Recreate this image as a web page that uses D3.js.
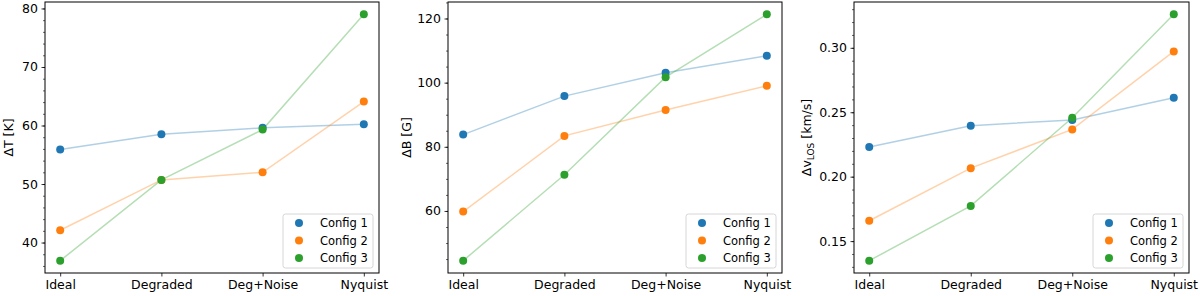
<!DOCTYPE html>
<html>
<head>
<meta charset="utf-8">
<script src="https://cdn.jsdelivr.net/npm/d3@7"></script>
<style>
  body { margin: 0; background: #fff; }
  svg text { font-family: "DejaVu Sans", sans-serif; fill: #000; }
</style>
</head>
<body>
<svg id="chart" width="1200" height="296"></svg>
<script>
// categories along x
var stages = ['Ideal', 'Degraded', 'Deg+Noise', 'Nyquist'];
var configs = ['Config 1', 'Config 2', 'Config 3'];
var colors = ['#1f77b4', '#ff7f0e', '#2ca02c'];

// Delta T [K]
var tempC1 = [55.9, 58.5, 59.6, 60.2];
var tempC2 = [42.1, 50.7, 52.0, 64.1];
var tempC3 = [36.9, 50.7, 59.3, 79.0];
var tempTicks = [40, 50, 60, 70, 80];

// Delta B [G]
var fieldC1 = [83.8, 95.8, 103.1, 108.4];
var fieldC2 = [59.8, 83.4, 91.5, 99.0];
var fieldC3 = [44.5, 71.3, 101.7, 121.3];
var fieldTicks = [60, 80, 100, 120];

// Delta v_LOS [km/s]
var velC1 = [0.2231, 0.2396, 0.2440, 0.2612];
var velC2 = [0.1658, 0.2066, 0.2367, 0.2972];
var velC3 = [0.1348, 0.1773, 0.2457, 0.3260];
var velTicks = [0.15, 0.20, 0.25, 0.30];

var panels = [
    { left: 45, width: 334, series: [tempC1, tempC2, tempC3], ticks: tempTicks, minor: 2, fmt: d3.format('d'), label: 'ΔT [K]', labelX: 13 },
    { left: 448, width: 334, series: [fieldC1, fieldC2, fieldC3], ticks: fieldTicks, minor: 5, fmt: d3.format('d'), label: 'ΔB [G]', labelX: 411 },
    { left: 854, width: 335, series: [velC1, velC2, velC3], ticks: velTicks, minor: 0.01, fmt: d3.format('.2f'), label: 'vlos', labelX: 811 }
];

var plotTop = 2, plotBottom = 273;
var svg = d3.select('#chart');

panels.forEach(function (p) {
    var h = plotBottom - plotTop;
    var g = svg.append('g').attr('transform', 'translate(' + p.left + ',' + plotTop + ')');

    // matplotlib style 5% margins
    var x = d3.scaleLinear().domain([-0.15, 3.15]).range([0, p.width]);
    var ext = d3.extent(d3.merge(p.series));
    var pad = (ext[1] - ext[0]) * 0.05;
    var y = d3.scaleLinear().domain([ext[0] - pad, ext[1] + pad]).range([h, 0]);

    // minor ticks on y
    var minorTicks = [];
    var start = Math.ceil(y.domain()[0] / p.minor);
    for (var k = start; k * p.minor <= y.domain()[1]; k++) {
        minorTicks.push(+(k * p.minor).toFixed(4));
    }
    g.append('g')
        .call(d3.axisLeft(y).tickValues(minorTicks).tickSize(2).tickFormat(''))
        .call(function (a) { a.select('.domain').remove(); a.selectAll('line').attr('stroke', '#000').attr('stroke-width', 0.6); });

    var yAxis = g.append('g')
        .call(d3.axisLeft(y).tickValues(p.ticks).tickSize(3.5).tickPadding(3.5).tickFormat(p.fmt));
    yAxis.select('.domain').remove();
    yAxis.selectAll('line').attr('stroke', '#000').attr('stroke-width', 0.8);
    yAxis.selectAll('text').attr('font-size', 12.5).attr('font-family', 'DejaVu Sans');

    var xAxis = g.append('g').attr('transform', 'translate(0,' + h + ')')
        .call(d3.axisBottom(x).tickValues([0, 1, 2, 3]).tickSize(3.5).tickPadding(4)
            .tickFormat(function (i) { return stages[i]; }));
    xAxis.select('.domain').remove();
    xAxis.selectAll('line').attr('stroke', '#000').attr('stroke-width', 0.8);
    xAxis.selectAll('text').attr('font-size', 12.5).attr('font-family', 'DejaVu Sans');

    var line = d3.line().x(function (d, i) { return x(i); }).y(function (d) { return y(d); });

    p.series.forEach(function (s, si) {
        g.append('path').datum(s)
            .attr('d', line)
            .attr('fill', 'none')
            .attr('stroke', colors[si])
            .attr('stroke-opacity', 0.35)
            .attr('stroke-width', 1.5);
    });
    p.series.forEach(function (s, si) {
        g.selectAll('.dot' + si).data(s).enter().append('circle')
            .attr('class', 'dot' + si)
            .attr('cx', function (d, i) { return x(i); })
            .attr('cy', function (d) { return y(d); })
            .attr('r', 4)
            .attr('fill', colors[si]);
    });

    // frame
    g.append('rect').attr('width', p.width).attr('height', h)
        .attr('fill', 'none').attr('stroke', '#000').attr('stroke-width', 1);

    // y label
    var lab = svg.append('text')
        .attr('transform', 'translate(' + p.labelX + ',' + (plotTop + h / 2) + ') rotate(-90)')
        .attr('text-anchor', 'middle')
        .attr('font-size', 12.5);
    if (p.label === 'vlos') {
        lab.append('tspan').text('Δv');
        lab.append('tspan').attr('font-size', 9).attr('dy', 3).text('LOS');
        lab.append('tspan').attr('dy', -3).text(' [km/s]');
    } else {
        lab.text(p.label);
    }

    // legend, lower right
    var lw = 90, lh = 54;
    var leg = g.append('g').attr('transform', 'translate(' + (p.width - 6 - lw) + ',' + (h - 5 - lh) + ')');
    leg.append('rect').attr('width', lw).attr('height', lh).attr('rx', 2.5)
        .attr('fill', '#fff').attr('fill-opacity', 0.8)
        .attr('stroke', '#cccccc').attr('stroke-width', 0.8);
    configs.forEach(function (c, ci) {
        var cy = 9 + ci * 17.5;
        leg.append('circle').attr('cx', 16).attr('cy', cy).attr('r', 4).attr('fill', colors[ci]);
        leg.append('text').attr('x', 37).attr('y', cy + 4).attr('font-size', 11.5).text(c);
    });
});
</script>
</body>
</html>
